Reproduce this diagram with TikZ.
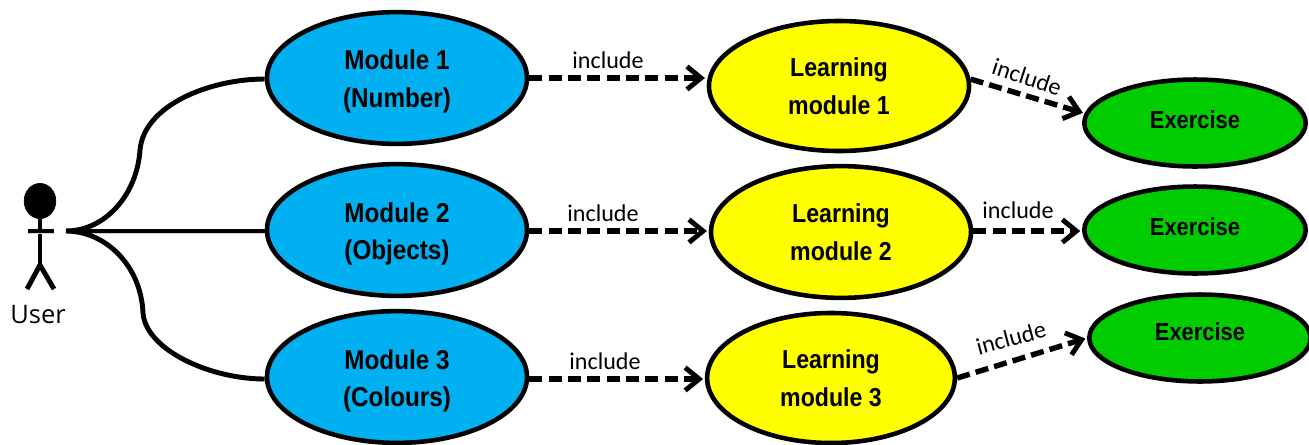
\documentclass[tikz,border=0pt]{standalone}
\usepackage{fontspec}
\setmainfont[FakeStretch=0.89]{Liberation Sans}
\newfontfamily\incfont{Carlito}
\newfontfamily\userfont{Open Sans}
\usetikzlibrary{arrows.meta,shapes.geometric}
\definecolor{modblue}{RGB}{0,176,240}
\definecolor{learnyellow}{RGB}{255,255,0}
\definecolor{exgreen}{RGB}{0,204,0}
\tikzset{
  usecase/.style={draw,ellipse,line width=2.6pt,inner sep=0pt,font=\fontsize{14.8}{21.6}\selectfont\bfseries,align=center},
  modcase/.style={usecase,fill=modblue,font=\fontsize{15.5}{21.6}\selectfont\bfseries,text height=37.3pt,minimum width=148pt,minimum height=75pt},
  learncase/.style={usecase,fill=learnyellow,minimum width=148pt,minimum height=74pt},
  excase/.style={usecase,fill=exgreen,font=\fontsize{14}{16}\selectfont\bfseries,minimum width=126pt,minimum height=49.5pt},
  assoc/.style={line width=2.8pt,preaction={draw=black!18,transform canvas={yshift=-1.2pt}}},
  inc/.style={line width=3.1pt,dash pattern=on 7.5pt off 3.5pt,shorten >=1pt,-{Straight Barb[length=8pt,width=13pt,line width=2.8pt]}},
  inclabel/.style={font=\fontsize{13.7}{15}\selectfont\incfont,inner sep=0pt},
}
\begin{document}
\begin{tikzpicture}[x=0.02cm,y=-0.02cm]
\useasboundingbox (0,0) rectangle (1309,444);

% The modules
\node[modcase] (m1) at (397,78) {Module 1\\(Number)};
\node[modcase] (m2) at (397,230) {Module 2\\(Objects)};
\node[modcase] (m3) at (397,377) {Module 3\\(Colours)};

% The learning modules
\node[learncase] (l1) at (839,86) {Learning\\module 1};
\node[learncase,minimum height=75pt] (l2) at (841,232) {Learning\\module 2};
\node[learncase,minimum width=141pt] (l3) at (831,378) {Learning\\module 3};

% The exercises
\node[excase,text depth=3.4pt] (e1) at (1195,123) {Exercise};
\node[excase,text depth=4.4pt] (e2) at (1195,230) {Exercise};
\node[excase,text depth=7pt] (e3) at (1200,338) {Exercise};

% The user
\node[draw,fill,ellipse,inner sep=0pt,minimum width=18pt,minimum height=20pt] (head) at (40,201) {};
\coordinate (hip) at (40,265);
\coordinate (hand) at (66,231);
\draw[assoc] (head.south) -- (hip);
\draw[assoc] (28,231) -- (54,231);
\draw[assoc] (27,289) -- (hip) -- (54,289);
\node[font=\fontsize{14.5}{16}\selectfont\userfont,inner sep=0pt] (user) at (38,315) {User};

% User to modules
\draw[assoc] (hand) .. controls (105,231) and (137,195) .. (140,150) .. controls (144,105) and (210,79) .. (m1.west |- 0,79);
\draw[assoc] (hand) -- (m2.west |- hand);
\draw[assoc] (hand) .. controls (105,231) and (141,265) .. (143,313) .. controls (146,350) and (210,379) .. (m3.west |- 0,379);

% Includes
\draw[inc] (m1.east) -- (l1.west |- m1.east);
\draw[inc] (m2.east |- hand) -- (l2.west |- hand);
\draw[inc] (m3.east |- 0,379) -- (l3.west |- 0,379);
\draw[inc] (l1.3) -- (e1.175);
\draw[inc] (l2.east |- hand) -- (e2.west |- hand);
\draw[inc] (l3.east) -- (e3.west);

% Their labels
\node[inclabel] (i1) at (608,60) {include};
\node[inclabel] (i2) at (603,213) {include};
\node[inclabel] (i3) at (605,361) {include};
\node[inclabel,rotate=-18] (i4) at (1027,77) {include};
\node[inclabel] (i5) at (1018,210) {include};
\node[inclabel,rotate=15] (i6) at (1011,338) {include};
\end{tikzpicture}
\end{document}
